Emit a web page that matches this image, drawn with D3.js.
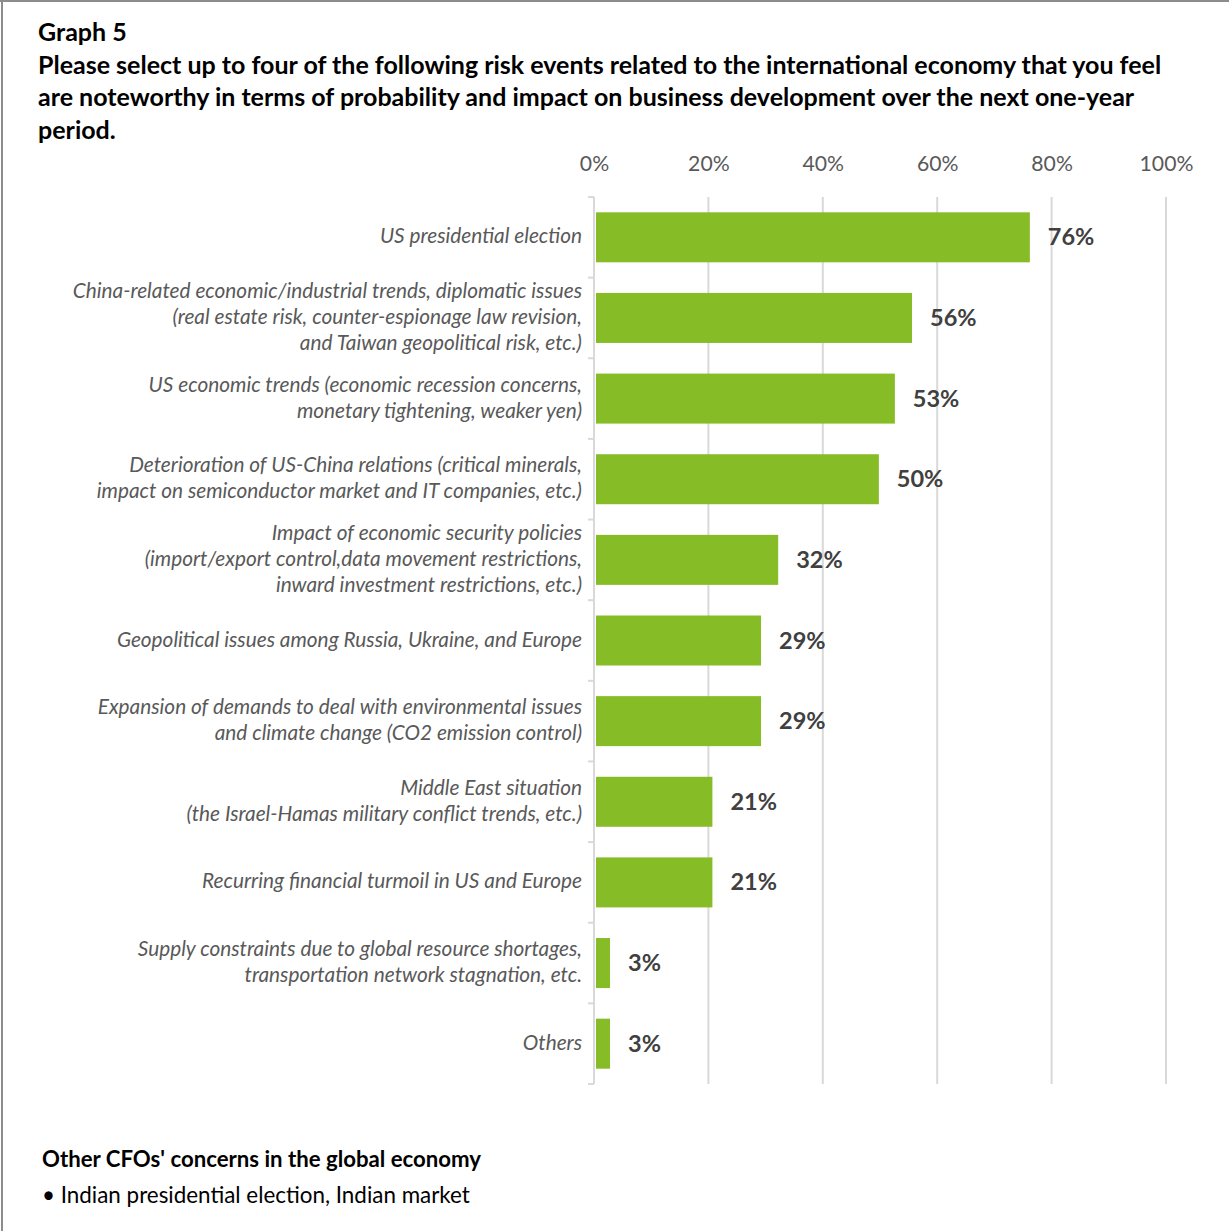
<!DOCTYPE html>
<html>
<head>
<meta charset="utf-8">
<script src="https://cdn.jsdelivr.net/npm/d3@7"></script>
<style>
  body { margin: 0; background: #fff; }
  svg text { font-family: Lato, "Noto Sans", sans-serif; }
</style>
</head>
<body>
<div id="chart"></div>
<script>
// categories (line breaks as in the original)
var categories = [
  "US presidential election",
  "China-related economic/industrial trends, diplomatic issues\n(real estate risk, counter-espionage law revision,\nand Taiwan geopolitical risk, etc.)",
  "US economic trends (economic recession concerns,\nmonetary tightening, weaker yen)",
  "Deterioration of US-China relations (critical minerals,\nimpact on semiconductor market and IT companies, etc.)",
  "Impact of economic security policies\n(import/export control,data movement restrictions,\ninward investment restrictions, etc.)",
  "Geopolitical issues among Russia, Ukraine, and Europe",
  "Expansion of demands to deal with environmental issues\nand climate change (CO2 emission control)",
  "Middle East situation\n(the Israel-Hamas military conflict trends, etc.)",
  "Recurring financial turmoil in US and Europe",
  "Supply constraints due to global resource shortages,\ntransportation network stagnation, etc.",
  "Others"
];
var values = [0.762, 0.556, 0.526, 0.498, 0.322, 0.292, 0.292, 0.207, 0.207, 0.028, 0.028];
var tickValues = [0, 0.2, 0.4, 0.6, 0.8, 1.0];

var titleLines = [
  "Graph 5",
  "Please select up to four of the following risk events related to the international economy that you feel",
  "are noteworthy in terms of probability and impact on business development over the next one-year",
  "period."
];
var noteTitle = "Other CFOs' concerns in the global economy";
var noteItems = ["\u2022 Indian presidential election, Indian market"];

var data = categories.map(function (c, i) {
  return { name: c, value: values[i] };
});

var W = 1229, H = 1231;
var margin = { top: 197, right: 63, bottom: 147, left: 594 };

var svg = d3.select("#chart").append("svg")
  .attr("width", W)
  .attr("height", H);

// frame (only top and left edges show)
svg.append("line").attr("x1", 0).attr("x2", W).attr("y1", 1).attr("y2", 1)
  .attr("stroke", "#8c8c8c").attr("stroke-width", 2);
svg.append("line").attr("x1", 2).attr("x2", 2).attr("y1", 0).attr("y2", H)
  .attr("stroke", "#8c8c8c").attr("stroke-width", 2);

// title
svg.append("g").selectAll("text")
  .data(titleLines)
  .enter().append("text")
  .attr("x", 38)
  .attr("y", function (d, i) { return 41 + i * 32.5; })
  .attr("font-size", 25)
  .attr("font-weight", "bold")
  .attr("fill", "#000")
  .text(function (d) { return d; });

var x = d3.scaleLinear()
  .domain([0, 1])
  .range([margin.left, W - margin.right]);

var y = d3.scaleBand()
  .domain(categories)
  .range([margin.top, H - margin.bottom])
  .paddingInner(0.38)
  .paddingOuter(0.19);

// vertical gridlines
svg.append("g").selectAll("line")
  .data(tickValues.slice(1))
  .enter().append("line")
  .attr("x1", function (d) { return x(d); })
  .attr("x2", function (d) { return x(d); })
  .attr("y1", margin.top)
  .attr("y2", H - margin.bottom)
  .attr("stroke", "#d9d9d9")
  .attr("stroke-width", 2);

// top axis labels
var xAxis = d3.axisTop(x)
  .tickValues(tickValues)
  .tickFormat(d3.format(".0%"))
  .tickSize(0)
  .tickPadding(0);

var gx = svg.append("g")
  .attr("transform", "translate(0,171)")
  .call(xAxis);
gx.select(".domain").remove();
gx.selectAll("text")
  .attr("font-size", 21.2)
  .attr("fill", "#595959");

// left axis line with ticks at category boundaries
var step = y.step();
var bounds = d3.range(categories.length + 1).map(function (i) {
  return margin.top + i * step;
});
svg.append("line")
  .attr("x1", margin.left).attr("x2", margin.left)
  .attr("y1", margin.top).attr("y2", H - margin.bottom)
  .attr("stroke", "#d9d9d9").attr("stroke-width", 2);
svg.append("g").selectAll("line")
  .data(bounds)
  .enter().append("line")
  .attr("x1", margin.left - 6).attr("x2", margin.left)
  .attr("y1", function (d) { return d; })
  .attr("y2", function (d) { return d; })
  .attr("stroke", "#d9d9d9").attr("stroke-width", 2);

// category labels
var labels = svg.append("g").selectAll("text")
  .data(data)
  .enter().append("text")
  .attr("text-anchor", "end")
  .attr("font-size", 20.8)
  .attr("font-style", "italic")
  .attr("fill", "#595959");

labels.each(function (d) {
  var lines = d.name.split("\n");
  var cy = y(d.name) + y.bandwidth() / 2;
  var lh = 26;
  var t = d3.select(this);
  lines.forEach(function (ln, i) {
    t.append("tspan")
      .attr("x", 582)
      .attr("y", cy + (i - (lines.length - 1) / 2) * lh + 6)
      .text(ln);
  });
});

// bars
svg.append("g").selectAll("rect")
  .data(data)
  .enter().append("rect")
  .attr("x", x(0) + 2)
  .attr("y", function (d) { return y(d.name); })
  .attr("width", function (d) { return x(d.value) - x(0) - 2; })
  .attr("height", y.bandwidth())
  .attr("fill", "#86bc25");

// value labels
svg.append("g").selectAll("text")
  .data(data)
  .enter().append("text")
  .attr("x", function (d) { return x(d.value) + 18; })
  .attr("y", function (d) { return y(d.name) + y.bandwidth() / 2 + 8; })
  .attr("font-size", 23.5)
  .attr("font-weight", "bold")
  .attr("fill", "#404040")
  .text(function (d) { return d3.format(".0%")(d.value); });

// note below the chart
svg.append("text")
  .attr("x", 42)
  .attr("y", 1167)
  .attr("font-size", 22.2)
  .attr("font-weight", "bold")
  .attr("fill", "#000")
  .text(noteTitle);

svg.append("g").selectAll("text")
  .data(noteItems)
  .enter().append("text")
  .attr("x", 42)
  .attr("y", function (d, i) { return 1203 + i * 34; })
  .attr("font-size", 22.4)
  .attr("fill", "#000")
  .text(function (d) { return d; });
</script>
</body>
</html>
